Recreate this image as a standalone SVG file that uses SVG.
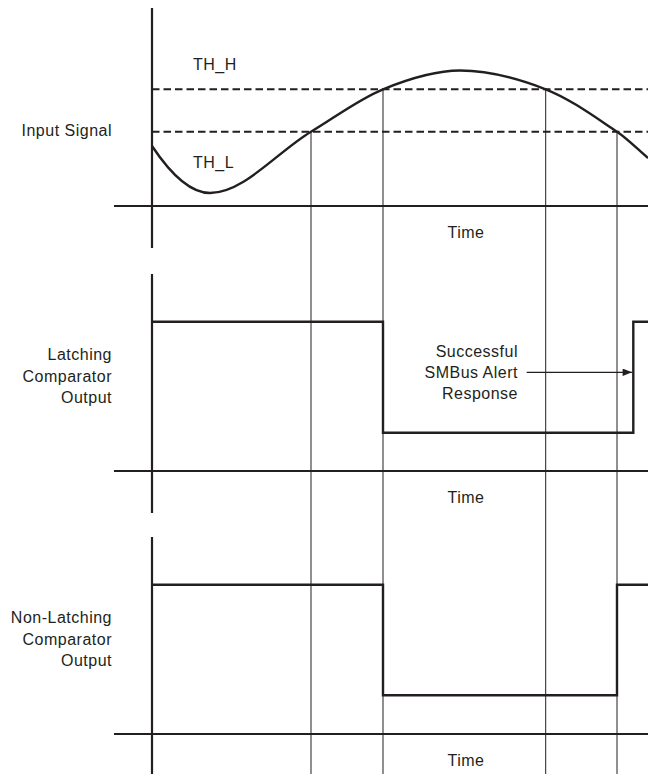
<svg xmlns="http://www.w3.org/2000/svg" width="648" height="774" viewBox="0 0 648 774">
<style>
text{font-family:"Liberation Sans",Arial,sans-serif;font-size:16px;letter-spacing:0.5px;fill:#231f20}
.r{text-anchor:end}
.m{text-anchor:middle}
.axis{stroke:#231f20;stroke-width:2.2;fill:none}
.sig{stroke:#231f20;stroke-width:2.4;fill:none;stroke-linejoin:miter}
.grid{stroke:#231f20;stroke-width:1;fill:none}
.dash{stroke:#231f20;stroke-width:2;stroke-dasharray:7.5 4;fill:none}
</style>
<defs>
<marker id="ah" viewBox="0 0 10 8" refX="10" refY="4" markerWidth="15" markerHeight="7.5" markerUnits="userSpaceOnUse" orient="auto">
<path d="M0,0 L10,4 L0,8 Z" fill="#231f20"/>
</marker>
</defs>
<rect width="648" height="774" fill="#fff"/>
<g id="grid-lines">
<line class="grid" x1="311" y1="131.7" x2="311" y2="774"/>
<line class="grid" x1="383" y1="89.3" x2="383" y2="774"/>
<line class="grid" x1="545.7" y1="89.3" x2="545.7" y2="774"/>
<line class="grid" x1="617" y1="131.7" x2="617" y2="774"/>
</g>
<g id="input-panel">
<line class="axis" x1="152" y1="8" x2="152" y2="248"/>
<line class="axis" x1="114" y1="206" x2="648" y2="206"/>
<line class="dash" x1="152" y1="89.3" x2="648" y2="89.3"/>
<line class="dash" x1="152" y1="131.7" x2="648" y2="131.7"/>
<path class="sig" d="M152,146 C171.3,175 190.7,193 210,193 C243.7,193 277.3,151.9 311,131.7 C335,117.3 359,99.1 383,89.3 C408.7,78.8 434.3,70.5 460,70.5 C488.6,70.5 517.1,78.1 545.7,89.3 C569.5,98.6 593.2,115.8 617,131.7 C627.3,138.6 637.7,149.2 648,158"/>
<text class="r" x="112" y="136">Input Signal</text>
<text x="193" y="70">TH_H</text>
<text x="193" y="168">TH_L</text>
<text class="m" x="466" y="238">Time</text>
</g>
<g id="latching-panel">
<line class="axis" x1="152" y1="274" x2="152" y2="513"/>
<line class="axis" x1="114" y1="471" x2="648" y2="471"/>
<path class="sig" d="M152,321.7 H383 V432.7 H633.3 V321.7 H648"/>
<text class="r" x="112" y="360">Latching</text>
<text class="r" x="112" y="382">Comparator</text>
<text class="r" x="112" y="403">Output</text>
<text class="m" x="466" y="503">Time</text>
</g>
<g id="alert-label">
<text class="r" x="518" y="356.5">Successful</text>
<text class="r" x="518" y="377.5">SMBus Alert</text>
<text class="r" x="518" y="399">Response</text>
</g>
<g id="connectors">
<line x1="526.7" y1="372.3" x2="632" y2="372.3" stroke="#231f20" stroke-width="1.2" marker-end="url(#ah)"/>
</g>
<g id="nonlatching-panel">
<line class="axis" x1="152" y1="537" x2="152" y2="774"/>
<line class="axis" x1="114" y1="734" x2="648" y2="734"/>
<path class="sig" d="M152,584.7 H383 V695.3 H617 V584.7 H648"/>
<text class="r" x="112" y="623">Non-Latching</text>
<text class="r" x="112" y="645">Comparator</text>
<text class="r" x="112" y="666">Output</text>
<text class="m" x="466" y="766">Time</text>
</g>
</svg>
